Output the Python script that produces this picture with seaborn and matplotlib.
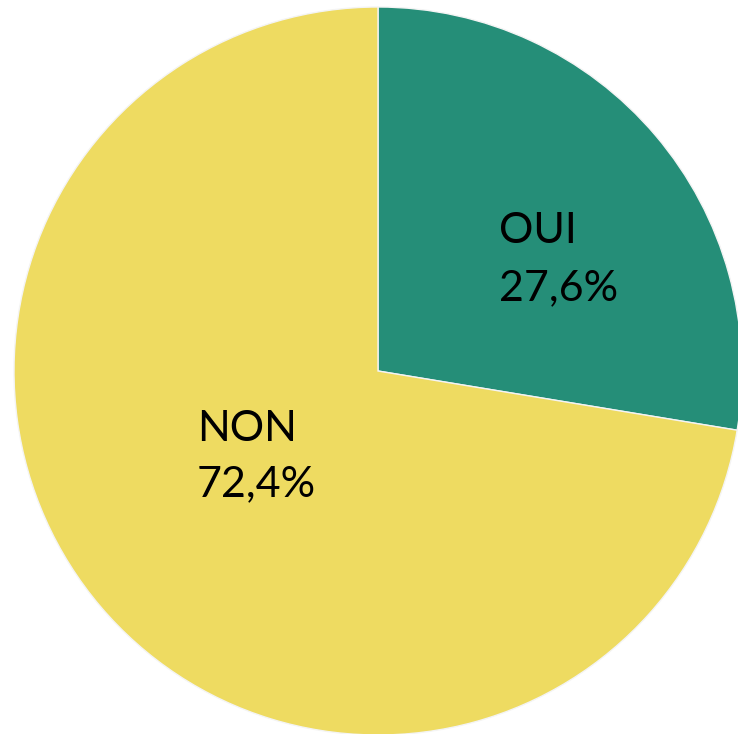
import matplotlib
matplotlib.use("Agg")
import matplotlib.pyplot as plt
import seaborn as sns

# Data
labels = ["OUI", "NON"]
values = [27.6, 72.4]
pct_text = ["27,6%", "72,4%"]
colors = ["#258E78", "#EEDB61"]

sns.set_style("white")
plt.rcParams["font.family"] = ["Lato", "DejaVu Sans"]

W, H = 738, 734
fig = plt.figure(figsize=(W / 100, H / 100), dpi=100)
ax = fig.add_axes([0, 0, 1, 1])

ax.pie(
    values,
    colors=colors,
    startangle=90,
    counterclock=False,
    radius=1,
    wedgeprops=dict(edgecolor="#f4f4f4", linewidth=1),
)

# pie centre / radius in pixels, so the circle sits as in the original
cx, cy, r = 378, 371, 364
ax.set_aspect("auto")
ax.set_xlim(-cx / r, (W - cx) / r)
ax.set_ylim(-(H - cy) / r, cy / r)
ax.axis("off")

# label anchors (left edge, baselines) in pixels
anchors = [(499, 243, 300), (197, 441, 496)]
for lab, pct, (x, y1, y2) in zip(labels, pct_text, anchors):
    fig.text(x / W, 1 - y1 / H, lab, fontsize=31, color="black", ha="left", va="baseline")
    fig.text(x / W, 1 - y2 / H, pct, fontsize=31, color="black", ha="left", va="baseline")

fig.savefig("out.png", dpi=100, facecolor="white")
